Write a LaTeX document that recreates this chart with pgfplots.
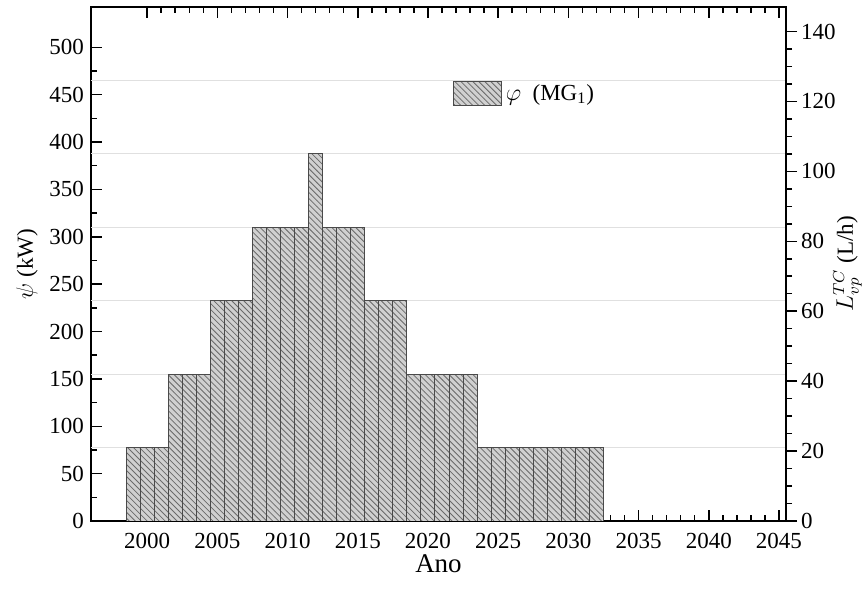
\documentclass[border=0pt]{standalone}
\usepackage{fontspec}
\setmainfont{Liberation Serif}
\usepackage{pgfplots}
\usepackage{pgfplotstable}
\pgfplotsset{compat=1.18}
\usetikzlibrary{patterns}
\definecolor{barfill}{HTML}{D0D0D0}
\definecolor{hatch}{HTML}{6A6A6A}
\definecolor{bardraw}{HTML}{4A4A4A}
\definecolor{gridc}{HTML}{E0E0E0}
\pgfplotstableread{
year val
1999 77.5
2000 77.5
2001 77.5
2002 155
2003 155
2004 155
2005 232.5
2006 232.5
2007 232.5
2008 310
2009 310
2010 310
2011 310
2012 387.5
2013 310
2014 310
2015 310
2016 232.5
2017 232.5
2018 232.5
2019 155
2020 155
2021 155
2022 155
2023 155
2024 77.5
2025 77.5
2026 77.5
2027 77.5
2028 77.5
2029 77.5
2030 77.5
2031 77.5
2032 77.5
}\data
\begin{document}
\begin{tikzpicture}
\pgfplotsset{
  common/.style={
    scale only axis, width=347.5bp, height=257bp,
    xmin=1996, xmax=2045.5,
    axis line style={line width=1bp},
    every tick/.style={line width=0.75bp, black},
    major tick length=5.5bp, minor tick length=3bp,
    tick label style={font=\fontsize{11.5bp}{13bp}\selectfont},
    label style={font=\fontsize{11.5bp}{13bp}\selectfont},
    /pgf/number format/assume math mode=true,
    /pgf/number format/1000 sep={},
  }
}
\begin{axis}[common, name=ax,
  ymin=0, ymax=542.5,
  xtick={2000,2005,...,2045}, minor x tick num=4,
  ytick={0,50,...,500}, minor y tick num=1,
  xtick pos=both, ytick pos=left, tick align=inside,
  xticklabel style={yshift=-2.5bp},
  extra y ticks={77.5,155,232.5,310,387.5,465},
  extra y tick labels={},
  extra y tick style={grid=major, major tick length=0pt, grid style={gridc, line width=0.6bp}},
  xlabel={Ano},
  xlabel style={font=\fontsize{13.5bp}{15bp}\selectfont, yshift=4bp},
  ylabel={$\psi$ (kW)},
  ylabel style={yshift=-1bp},
  legend style={at={(0.52,0.831)}, anchor=west, draw=none, fill=none, inner sep=0pt,
    font=\fontsize{11.5bp}{13bp}\selectfont},
  legend image code/.code={\draw[#1] (0bp,-6bp) rectangle (24bp,6bp);},
]
\addplot[ybar, bar width=1, fill=barfill, draw=bardraw, line width=0.5bp,
  postaction={pattern=north west lines, pattern color=hatch}]
  table[x=year, y=val] {\data};
\addlegendentry{$\varphi$\ \ (MG\textsubscript{1})}
\end{axis}
\begin{axis}[common, at={(ax.south west)}, anchor=south west,
  ymin=0, ymax=147,
  axis y line*=right, hide x axis,
  ytick={0,20,...,140}, minor y tick num=3,
  tick align=outside,
  yticklabel style={xshift=-1.5bp},
  ylabel={$L_{vp}^{TC}$ (L/h)},
  ylabel shift=-8bp,
]
\addplot[draw=none] coordinates {(2000,0)};
\end{axis}
\pgfresetboundingbox
\path (ax.south west) ++(-45.5bp,-40bp) coordinate (bl);
\path (ax.north east) ++(40bp,3.5bp) coordinate (tr);
\path[use as bounding box] (bl) rectangle (tr);
\end{tikzpicture}
\end{document}
